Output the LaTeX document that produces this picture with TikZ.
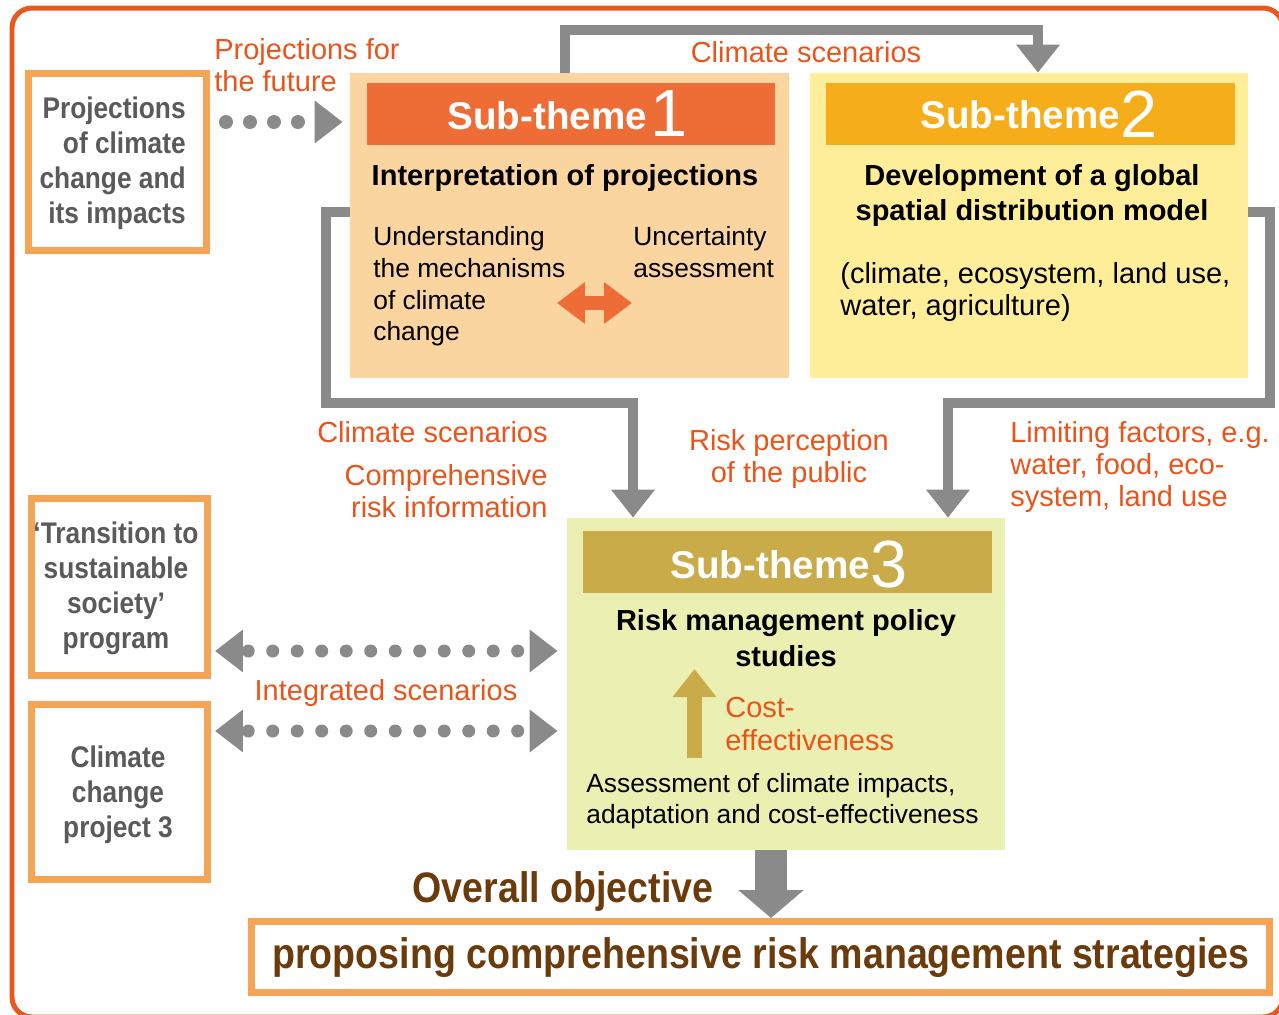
\documentclass[tikz,border=0pt]{standalone}
\usepackage{fontspec}
\setmainfont{Liberation Sans}
\newfontfamily\condfont[FakeStretch=0.88]{Liberation Sans}
\usetikzlibrary{arrows.meta,fit,calc}
\definecolor{frameor}{HTML}{E8571B}
\definecolor{boxor}{HTML}{F5A455}
\definecolor{lblor}{HTML}{E9541B}
\definecolor{agray}{HTML}{8A8A8A}
\definecolor{gtxt}{HTML}{5A5A5A}
\definecolor{objbrown}{HTML}{6B3B0C}
\definecolor{sOnebg}{HTML}{FBD5A0}
\definecolor{sOnehd}{HTML}{EE6D37}
\definecolor{sTwobg}{HTML}{FEEE9A}
\definecolor{sTwohd}{HTML}{F5AD1A}
\definecolor{sThrbg}{HTML}{EBF0B2}
\definecolor{sThrhd}{HTML}{C9AB4A}
\begin{document}
\begin{tikzpicture}[x=0.02cm,y=-0.02cm,
  lbl/.style={inner sep=0pt, text=lblor, font=\fontsize{16.5}{18.2}\selectfont},
  body/.style={inner sep=0pt, text=black, align=left, font=\fontsize{15}{18.1}\selectfont},
  bodyb/.style={inner sep=0pt, text=black, align=left, font=\fontsize{16.5}{18.1}\selectfont},
  bhead/.style={inner sep=0pt, text=black, align=center, font=\bfseries\fontsize{16.5}{19.8}\selectfont},
  ctext/.style={inner sep=0pt, text=gtxt, font=\condfont\bfseries\fontsize{17}{20}\selectfont},
  otext/.style={inner sep=0pt, text=objbrown, font=\condfont\bfseries\fontsize{24.3}{26}\selectfont},
  obox/.style={draw=boxor, line width=0.14cm, fill=white, inner sep=0pt},
  panel/.style={inner sep=0pt, draw=none},
  stitle/.style={inner sep=0pt, text=white, anchor=base west, font=\bfseries\fontsize{22}{22}\selectfont},
  snum/.style={inner sep=0pt, text=white, anchor=base west, font=\fontsize{38}{38}\selectfont},
  garrow/.style={draw=agray, line width=0.2cm, -{Triangle[width=0.84cm,length=0.56cm]}},
  dotsmall/.style={draw=agray, line width=0.28cm, line cap=round, dash pattern=on 0pt off 0.48cm, dash phase=0.16cm,
     -{Triangle[width=0.82cm,length=0.56cm]}},
  dotline/.style={draw=agray, line width=0.26cm, line cap=round, dash pattern=on 0pt off 0.49cm, dash phase=0.35cm,
     {Triangle[width=0.82cm,length=0.56cm]}-{Triangle[width=0.82cm,length=0.56cm]}},
]
\useasboundingbox (0,0) rectangle (1279,1015);
\clip (0,0) rectangle (1279,1015);

% outer frame
\draw[frameor, line width=0.1cm, rounded corners=0.4cm] (12,8) rectangle (1283,1017);

% left boxes
\node[obox, fit={(28.5,73.5) (206.5,250.5)}] (p1) {};
\node[ctext, align=right, anchor=north east] (p1t) at (186,96.5) {Projections\\of climate\\change and\\its impacts};
\node[obox, fit={(31.5,498.5) (207.5,675.5)}] (t2) {};
\node[ctext, align=center, anchor=north] (t2t) at (116,521.5) {‘Transition to\\sustainable\\society’\\program};
\node[obox, fit={(31.5,704.5) (207.5,879.5)}] (t3) {};
\node[ctext, align=center, anchor=north] (t3t) at (118,745.5) {Climate\\change\\project 3};

% sub-theme panels
\node[panel, fill=sOnebg, fit={(350,73) (789,378)}] (s1) {};
\node[panel, fill=sOnehd, fit={(367,83) (775,145)}] (h1) {};
\node[stitle] (h1a) at (447,129) {Sub-theme};
\node[snum] (h1b) at (650,136) {1};
\node[bhead, anchor=base] (i1) at (565,185) {Interpretation of projections};
\node[body, anchor=north west] (u1) at (373,226) {Understanding\\the mechanisms\\of climate\\change};
\node[body, anchor=north west] (u2) at (633,226) {Uncertainty\\assessment};

\node[panel, fill=sTwobg, fit={(810,73) (1248,378)}] (s2) {};
\node[panel, fill=sTwohd, fit={(826,83) (1235,145)}] (h2) {};
\node[stitle] (h2a) at (920,128) {Sub-theme};
\node[snum] (h2b) at (1120,137) {2};
\node[bhead, anchor=north] (d1) at (1032,164) {Development of a global\\spatial distribution model};
\node[bodyb, anchor=north west] (d2) at (840,262) {(climate, ecosystem, land use,\\water, agriculture)};

\node[panel, fill=sThrbg, fit={(567,518) (1005,850)}] (s3) {};
\node[panel, fill=sThrhd, fit={(583,531) (992,593)}] (h3) {};
\node[stitle] (h3a) at (670,578) {Sub-theme};
\node[snum] (h3b) at (870,587) {3};
\node[bhead, anchor=north, font=\bfseries\fontsize{16.5}{20.4}\selectfont] (r1) at (786,609) {Risk management policy\\studies};
\node[lbl, align=left, anchor=north west, font=\fontsize{16.5}{18.7}\selectfont] (c1) at (725,697) {Cost-\\effectiveness};
\node[body, anchor=north west, font=\fontsize{15}{17.6}\selectfont] (a1) at (586,773) {Assessment of climate impacts,\\adaptation and cost-effectiveness};

% bottom objective
\node[obox, fit={(251.5,921.5) (1269.5,992.5)}] (bot) {};
\node[otext, anchor=base] (bott) at (761,968) {proposing comprehensive risk management strategies};
\node[otext, anchor=base] (ov) at (563,902) {Overall objective};

% labels
\node[lbl, align=left, anchor=north west] (lf) at (214,38) {Projections for\\the future};
\node[lbl, anchor=base] (lt) at (806,62) {Climate scenarios};
\node[lbl, anchor=base east] (l1) at (548,442) {Climate scenarios};
\node[lbl, align=right, anchor=north east] (l2) at (548,464) {Comprehensive\\risk information};
\node[lbl, align=center, anchor=north] (l3) at (789,429) {Risk perception\\of the public};
\node[lbl, align=left, anchor=north west] (l4) at (1010,421) {Limiting factors, e.g.\\water, food, eco-\\system, land use};
\node[lbl, anchor=base] (l5) at (386,700) {Integrated scenarios};

% connectors
\draw[garrow] (s1.north -| 565,0) -- (565,30) -| (s2.north -| 1038,0);
\draw[garrow] (s1.west |- 0,212) -- (326,212) -- (326,403) -- (633,403) -- (s3.north -| 633,0);
\draw[garrow] (s2.east |- 0,212) -- (1270,212) -- (1270,403) -- (948,403) -- (s3.north -| 948,0);
\draw[draw=agray, line width=0.64cm, -{Triangle[width=1.28cm,length=0.56cm]}] (s3.south -| 771,0) -- (bot.north -| 771,0);

\draw[dotsmall] (p1.east |- 0,122) -- ($(s1.west |- 0,122)+(-7,0)$);
\draw[dotline] ($(t2.east |- 0,651)+(4,0)$) -- ($(s3.west |- 0,651)+(-9,0)$);
\draw[dotline] ($(t3.east |- 0,731)+(4,0)$) -- ($(s3.west |- 0,731)+(-9,0)$);

% internal arrows
\coordinate (da1) at (557,303);
\coordinate (da2) at (632,303);
\draw[draw=sOnehd, line width=0.28cm, {Triangle[width=0.8cm,length=0.56cm]}-{Triangle[width=0.8cm,length=0.56cm]}] (da1) -- (da2);
\coordinate (ga1) at (694.5,758);
\coordinate (ga2) at (694.5,669);
\draw[draw=sThrhd, line width=0.3cm, -{Triangle[width=0.84cm,length=0.56cm]}] (ga1) -- (ga2);
\end{tikzpicture}
\end{document}
